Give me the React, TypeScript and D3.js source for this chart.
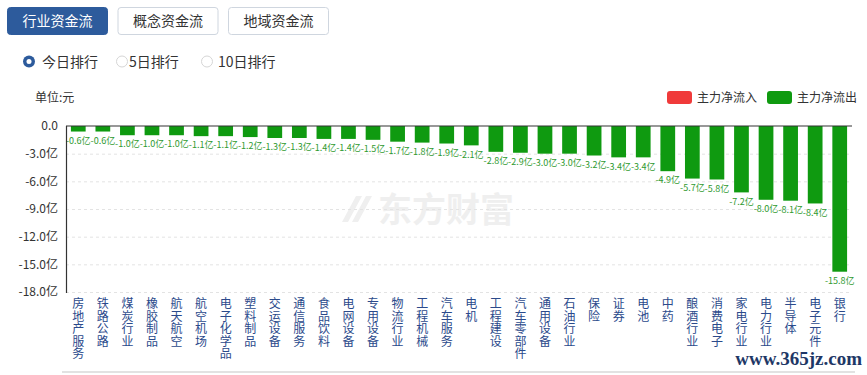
import React from "react";
import * as d3 from "d3";

const categories = ["房地产服务","铁路公路","煤炭行业","橡胶制品","航天航空","航空机场","电子化学品","塑料制品","交运设备","通信服务","食品饮料","电网设备","专用设备","物流行业","工程机械","汽车服务","电机","工程建设","汽车零部件","通用设备","石油行业","保险","证券","电池","中药","酿酒行业","消费电子","家电行业","电力行业","半导体","电子元件","银行"];
const values = [-0.6,-0.6,-1.0,-1.0,-1.0,-1.1,-1.1,-1.2,-1.3,-1.3,-1.4,-1.4,-1.5,-1.7,-1.8,-1.9,-2.1,-2.8,-2.9,-3.0,-3.0,-3.2,-3.4,-3.4,-4.9,-5.7,-5.8,-7.2,-8.0,-8.1,-8.4,-15.8];
const yTicks = [0,-3,-6,-9,-12,-15,-18];
const tabs = ["行业资金流","概念资金流","地域资金流"];
const radios = ["今日排行","5日排行","10日排行"];
const legendItems = ["主力净流入","主力净流出"];

const FONT = "'Noto Sans CJK SC', 'Noto Sans', sans-serif";
const GREEN = "#0f9a10";
const RED = "#f03a3a";
const BLUE = "#2d5b9c";

export default function App() {
  const W = 867, H = 375;
  const x = d3.scaleBand<string>().domain(categories).range([66, 852]).paddingInner(0.4).paddingOuter(0.2);
  const y = d3.scaleLinear().domain([0, -18]).range([126, 292]);
  const fmt = (v: number) => (v === 0 ? "0.0" : `${v.toFixed(1)}亿`);

  return (
    <svg width={W} height={H} style={{ position: "absolute", left: 0, top: 0, background: "#fff" }} fontFamily={FONT}>
      <rect x={0} y={0} width={W} height={H} fill="#fff" />
      {/* tabs */}
      {tabs.map((t, i) => {
        const bx = 7 + i * 110.5;
        const active = i === 0;
        return (
          <g key={t}>
            <rect x={bx + 0.5} y={7.5} width={100} height={27} rx={3} fill={active ? BLUE : "#fff"} stroke={active ? BLUE : "#cfd6df"} />
            <text x={bx + 50.5} y={21} dy="0.36em" textAnchor="middle" fontSize={14} fill={active ? "#fff" : "#333"}>{t}</text>
          </g>
        );
      })}
      {/* radios */}
      {radios.map((r, i) => {
        const cx = [29, 122, 207][i];
        const tx = [42, 129, 218][i];
        return (
          <g key={r}>
            {i === 0 ? (
              <>
                <circle cx={cx} cy={61.5} r={6} fill={BLUE} />
                <circle cx={cx} cy={61.5} r={2.5} fill="#fff" />
              </>
            ) : (
              <circle cx={cx} cy={61.5} r={5.5} fill="#fff" stroke="#d6d6d6" />
            )}
            <text x={tx} y={61.5} dy="0.36em" fontSize={14} fill="#333">{r}</text>
          </g>
        );
      })}
      {/* unit */}
      <text x={35} y={98} dy="0.36em" fontSize={12} fill="#333">单位:元</text>
      {/* legend */}
      {legendItems.map((l, i) => {
        const lx = 667 + i * 100;
        return (
          <g key={l}>
            <rect x={lx} y={91} width={25} height={13} rx={3} fill={i === 0 ? RED : GREEN} />
            <text x={lx + 30} y={97.5} dy="0.36em" fontSize={12} fill="#333">{l}</text>
          </g>
        );
      })}
      {/* watermark logo */}
      <g opacity={1}>
        <path d="M342,222 L356,196 L362,196 L348,222 Z M352,222 L366,196 L372,196 L358,222 Z" fill="#efefef" />
        <text x={378} y={210} dy="0.36em" fontSize={34} fontWeight="bold" fill="#efefef">东方财富</text>
      </g>
      {/* grid */}
      {yTicks.filter((t) => t !== 0).map((t) => (
        <line key={t} x1={66} x2={852} y1={y(t) + 0.5} y2={y(t) + 0.5} stroke="#e3e3e3" strokeDasharray="3,3" />
      ))}
      {/* y ticks */}
      {yTicks.map((t) => (
        <text key={t} x={58} y={y(t)} dy="0.36em" textAnchor="end" fontSize={12} fill="#333">{fmt(t)}</text>
      ))}
      {/* bars */}
      {values.map((v, i) => {
        const c = categories[i];
        const bx = x(c)!;
        return (
          <g key={c}>
            <rect x={bx} y={y(0)} width={x.bandwidth()} height={y(v) - y(0)} fill={GREEN} />
            <text x={bx + x.bandwidth() / 2} y={y(v) + 9} dy="0.36em" textAnchor="middle" fontSize={9} fill="#2f9a2f">{fmt(v)}</text>
          </g>
        );
      })}
      {/* axes */}
      <line x1={66} x2={852} y1={y(0)} y2={y(0)} stroke="#333" strokeWidth={1.2} />
      <line x1={66.5} x2={66.5} y1={y(0)} y2={293} stroke="#333" strokeWidth={1.2} />
      {/* x labels */}
      {categories.map((c) => {
        const cx = x(c)! + x.bandwidth() / 2;
        return (
          <text key={c} x={cx} y={304} fontSize={12} fill="#2b4a8b" textAnchor="middle">
            {Array.from(c).map((ch, j) => (
              <tspan key={j} x={cx} y={304 + j * 12.5} dy="0.36em">{ch}</tspan>
            ))}
          </text>
        );
      })}
      {/* bottom line */}
      <line x1={62} x2={855} y1={372} y2={372} stroke="#e2e2e2" strokeWidth={2} />
      {/* site watermark */}
      <text x={862} y={358} dy="0.36em" textAnchor="end" fontSize={19} fontWeight="bold" fontFamily="'Liberation Serif', 'DejaVu Serif', serif" fill="#1e3766">www.365jz.com</text>
    </svg>
  );
}
